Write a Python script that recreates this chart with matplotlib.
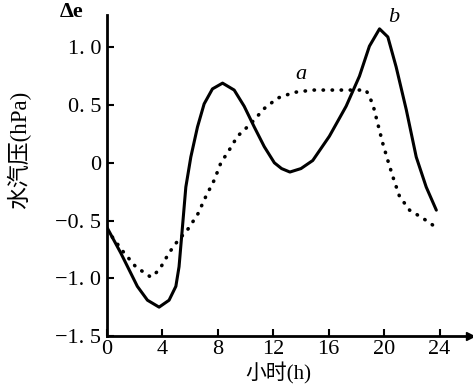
import matplotlib
matplotlib.use('Agg')
import matplotlib.pyplot as plt

plt.rcParams['font.family'] = ['Liberation Serif', 'Noto Sans CJK SC', 'DejaVu Sans']

# curve b (solid)
hours_b = [0, 0.99, 2.19, 2.92, 3.76, 4.48, 4.97, 5.2, 5.45, 5.69, 6.05, 6.53, 7.01, 7.61,
           8.34, 9.18, 9.9, 10.63, 11.35, 12.08, 12.6, 13.2, 14.0, 14.85, 16.05, 17.26,
           18.22, 18.94, 19.67, 20.27, 20.87, 21.6, 22.32, 23.04, 23.77]
de_b = [-0.56, -0.78, -1.07, -1.19, -1.25, -1.19, -1.07, -0.9, -0.55, -0.21, 0.05, 0.31,
        0.51, 0.64, 0.69, 0.63, 0.49, 0.31, 0.14, 0.0, -0.05, -0.08, -0.05, 0.02, 0.23,
        0.49, 0.75, 1.01, 1.16, 1.09, 0.83, 0.46, 0.05, -0.21, -0.41]

# curve a (dotted)
hours_a = [0, 1.1, 2.07, 3.16, 3.76, 4.48, 5.08, 5.81, 6.53, 7.14, 7.74, 8.22, 8.82, 9.42,
           10.39, 11.35, 12.31, 13.5, 14.85, 17.26, 18.7, 19.18, 19.54, 19.9, 20.27, 20.63,
           21.11, 21.84, 22.8, 23.52]
de_a = [-0.58, -0.76, -0.9, -0.99, -0.93, -0.78, -0.68, -0.58, -0.45, -0.29, -0.15, 0.0,
        0.11, 0.23, 0.34, 0.47, 0.56, 0.61, 0.63, 0.63, 0.63, 0.51, 0.34, 0.17, 0.02,
        -0.12, -0.29, -0.41, -0.48, -0.54]

xticks = [0, 4, 8, 12, 16, 20, 24]
yticks = [-1.5, -1.0, -0.5, 0, 0.5, 1.0]
ytick_labels = ['\u22121. 5', '\u22121. 0', '\u22120. 5', '0', '0. 5', '1. 0']

fig = plt.figure(figsize=(4.73, 3.89), dpi=100)
ax = fig.add_axes([107 / 473, 1 - 336 / 389, (470 - 107) / 473, (336 - 15) / 389])

ax.plot(hours_b, de_b, color='black', lw=2.2, solid_joinstyle='round', solid_capstyle='round')
ax.plot(hours_a, de_a, color='black', lw=2.6, linestyle=(0, (0.1, 2.4)), dash_capstyle='round')

ax.set_xlim(0, 26.2)
ax.set_ylim(-1.5, 1.28)
ax.spines['top'].set_visible(False)
ax.spines['right'].set_visible(False)
ax.spines['left'].set_linewidth(2)
ax.spines['bottom'].set_linewidth(2)
ax.plot(1, 0, '>', color='black', ms=6, transform=ax.transAxes, clip_on=False)

ax.set_xticks(xticks)
ax.set_yticks(yticks)
ax.set_yticklabels(ytick_labels)
ax.tick_params(direction='in', length=5, width=1.5, labelsize=16, pad=4)
ax.tick_params(axis='x', pad=3)

ax.set_xlabel('小时(h)', fontsize=15)
ax.xaxis.set_label_coords(0.471, -0.083)
ax.set_ylabel('水汽压(hPa)', fontsize=16.5)
ax.yaxis.set_label_coords(-0.21, 0.58)
fig.text(72 / 473, 1 - 12 / 389, 'Δe', fontsize=16, fontweight='bold', ha='center', va='center')
ax.text(13.6, 0.73, 'a', fontsize=16, style='italic')
ax.text(20.3, 1.22, 'b', fontsize=16, style='italic')

fig.savefig('out.png', dpi=100)
